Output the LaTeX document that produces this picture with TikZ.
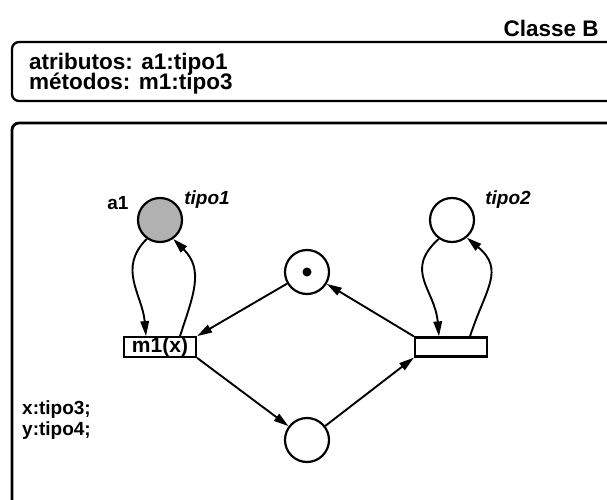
\documentclass[tikz,border=0pt]{standalone}
\usepackage{fontspec}
\setmainfont{Liberation Sans}
\usetikzlibrary{arrows.meta}
% keep stacked text lines at their set baseline distance
\setlength{\lineskiplimit}{-30pt}
\begin{document}
\begin{tikzpicture}[x=1pt,y=1pt,
  every node/.style={font=\bfseries},
  place/.style={draw,circle,line width=2.2pt,minimum size=44pt,inner sep=0pt},
  trans/.style={draw,rectangle,line width=2.2pt,minimum width=72pt,minimum height=19pt,inner sep=0pt},
  arc/.style={line width=1.9pt,-{Triangle[length=15pt,width=8.5pt]}},
  frame/.style={draw,rounded corners=7pt},
  big/.style={font=\bfseries\fontsize{22.5}{20.5}\selectfont},
  decl/.style={font=\bfseries\fontsize{19}{20.5}\selectfont},
  lbl/.style={font=\bfseries\fontsize{19}{20}\selectfont},
  tlbl/.style={font=\bfseries\itshape\fontsize{19}{20}\selectfont},
]
\useasboundingbox (0,0) rectangle (607,499);
\clip (0,0) rectangle (607,499);

% class title and interface box
\node[big,anchor=base west] (title) at (500,462) {Classe B};
\draw[frame,line width=2.3pt] (12,457) rectangle (660,398);
\node[big,anchor=base west,align=left,inner sep=0pt] (iface) at (29,409)
  {atributos: a1:tipo1\\métodos: m1:tipo3};

% body box with the net
\draw[frame,line width=2.8pt] (12,376) rectangle (660,-60);

% places
\node[place,fill=gray!60] (a1) at (160,279) {};
\node[place] (p2) at (452,279) {};
\node[place] (pm) at (307,227) {};
\node[circle,fill,inner sep=0pt,minimum size=9pt] (tok) at (pm) {};
\node[place] (pb) at (307,59) {};

% transitions
\node[trans,font=\bfseries\fontsize{21}{20}\selectfont] (m1) at (160,152) {m1(x)};
\node[trans] (t2) at (451,152) {};

% place labels
\node[lbl] (la1) at (118,296) {a1};
\node[tlbl] (lt1) at (207,299) {tipo1};
\node[tlbl] (lt2) at (508,299) {tipo2};

% variable declarations
\node[decl,anchor=base west,align=left,inner sep=0pt] (vars) at (22,64)
  {x:tipo3;\\y:tipo4;};

% loops between a1 and m1
\draw[arc] (a1.235) to[out=225,in=95,looseness=1.1] ([xshift=-14pt]m1.north);
\draw[arc] ([xshift=20pt]m1.north) to[out=72,in=-45,looseness=1.15] (a1.-55);

% loops between the right place and transition
\draw[arc] (p2.235) to[out=222,in=95,looseness=1.25] ([xshift=-12pt]t2.north);
\draw[arc] ([xshift=19pt]t2.north) to[out=72,in=-40,looseness=1.3] (p2.-50);

% cycle through the middle places
\draw[arc] (pm) -- (m1.north east);
\draw[arc] (t2.north west) -- (pm);
\draw[arc] (m1.south east) -- (pb);
\draw[arc] (pb) -- (t2.south west);
\end{tikzpicture}
\end{document}
